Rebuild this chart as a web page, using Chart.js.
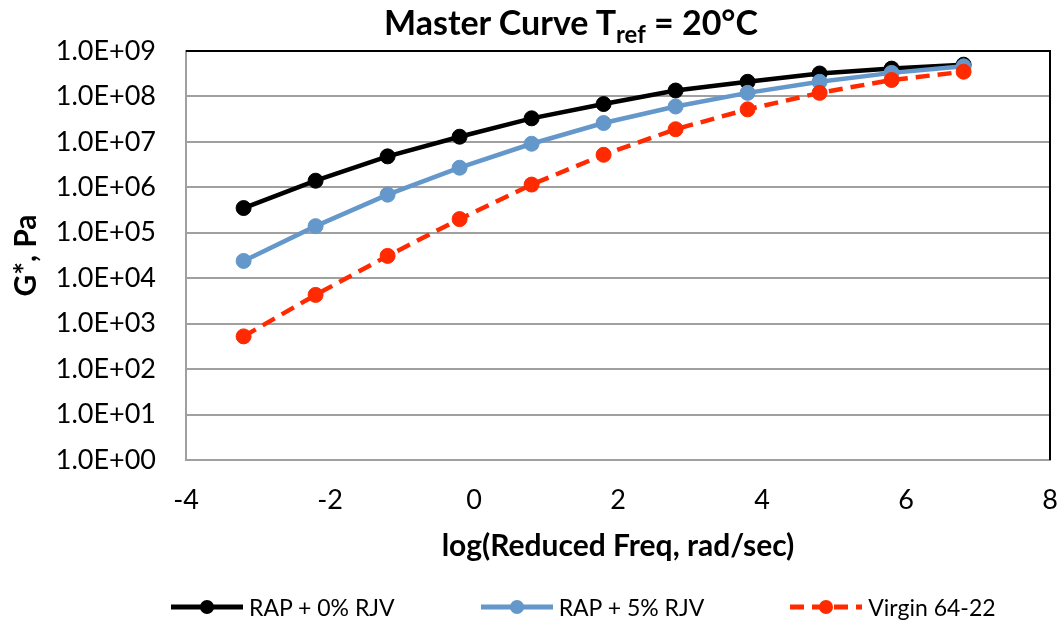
<!DOCTYPE html>
<html>
<head>
<meta charset="utf-8">
<script src="https://cdn.jsdelivr.net/npm/chart.js@4.4.0/dist/chart.umd.min.js"></script>
<style>
  body { margin: 0; background: #fff; }
  #wrap { position: relative; width: 1060px; height: 624px; font-family: Lato, sans-serif; color: #000; }
  #title { position: absolute; top: 1px; left: 571px; transform: translateX(-50%); font-weight: bold; font-size: 34px; white-space: nowrap; }
  #title sub { font-size: 0.7em; vertical-align: -0.35em; line-height: 0; }
  #legend { position: absolute; left: 171px; top: 593px; display: flex; align-items: center; font-size: 23px; white-space: nowrap; }
  .item { display: flex; align-items: center; margin-right: 86px; flex: none; }
  .item span { margin-left: 6px; }
</style>
</head>
<body>
<div id="wrap">
  <div id="title">Master Curve T<sub>ref</sub> = 20°C</div>
  <canvas id="chart" width="1060" height="624"></canvas>
  <div id="legend"></div>
</div>
<script>
// values
const logFreq = [-3.2, -2.2, -1.2, -0.2, 0.8, 1.8, 2.8, 3.8, 4.8, 5.8, 6.8];
const rap0 = [3.5e5, 1.4e6, 4.8e6, 1.3e7, 3.3e7, 6.8e7, 1.35e8, 2.1e8, 3.2e8, 4.1e8, 5.0e8];
const rap5 = [2.4e4, 1.4e5, 6.9e5, 2.7e6, 9.1e6, 2.6e7, 6.0e7, 1.2e8, 2.1e8, 3.3e8, 4.6e8];
const virgin = [525, 4.3e3, 3.1e4, 2.0e5, 1.15e6, 5.2e6, 1.9e7, 5.2e7, 1.2e8, 2.3e8, 3.5e8];
const seriesLabels = ['RAP + 0% RJV', 'RAP + 5% RJV', 'Virgin 64-22'];
const yTicks = [1, 10, 100, 1e3, 1e4, 1e5, 1e6, 1e7, 1e8, 1e9];

const GRID = '#a0a0a0';

function toPoints(values) {
  return logFreq.map((x, i) => ({ x: x, y: values[i] }));
}

function sci(v) {
  const e = Math.round(Math.log10(v));
  return '1.0E+' + String(e).padStart(2, '0');
}

// black line on top and right of the plot area
const frame = {
  id: 'frame',
  beforeDatasetsDraw(chart) {
    const { ctx, chartArea: a } = chart;
    ctx.save();
    ctx.strokeStyle = '#000';
    ctx.lineWidth = 2;
    ctx.beginPath();
    ctx.moveTo(a.left, a.top);
    ctx.lineTo(a.right, a.top);
    ctx.lineTo(a.right, a.bottom);
    ctx.stroke();
    ctx.restore();
  }
};

function makeSet(label, values, color, dash, order) {
  return {
    label: label,
    data: toPoints(values),
    borderColor: color,
    backgroundColor: color,
    pointBackgroundColor: color,
    pointBorderColor: color,
    borderWidth: 4.5,
    borderDash: dash,
    pointRadius: 7.5,
    pointBorderWidth: 1,
    tension: 0,
    order: order
  };
}

const ctx = document.getElementById('chart');
const chart = new Chart(ctx, {
  type: 'line',
  data: {
    datasets: [
      makeSet(seriesLabels[0], rap0, '#000000', [], 3),
      makeSet(seriesLabels[1], rap5, '#6497ca', [], 2),
      makeSet(seriesLabels[2], virgin, '#ff2a00', [14, 8], 1)
    ]
  },
  options: {
    responsive: false,
    animation: false,
    layout: { padding: { top: 51, right: 10, bottom: 60, left: 0 } },
    plugins: {
      legend: { display: false },
      title: { display: false },
      tooltip: { enabled: false }
    },
    scales: {
      x: {
        type: 'linear',
        min: -4,
        max: 8,
        ticks: { stepSize: 2, color: '#000', padding: 0, font: { family: 'Lato', size: 27 } },
        // invisible tick marks just push the labels down
        grid: { display: false, drawTicks: true, tickLength: 24, tickColor: 'rgba(0,0,0,0)' },
        border: { display: true, color: GRID, width: 2 },
        title: {
          display: true,
          text: 'log(Reduced Freq, rad/sec)',
          color: '#000',
          font: { family: 'Lato', size: 30, weight: 'bold' },
          padding: { top: 0, bottom: 0 }
        },
        afterFit(scale) { scale.height = 104; }
      },
      y: {
        type: 'logarithmic',
        min: 1,
        max: 1e9,
        afterBuildTicks(scale) { scale.ticks = yTicks.map((v) => ({ value: v })); },
        ticks: {
          color: '#000',
          padding: 30,
          font: { family: 'Lato', size: 27 },
          callback: (v) => sci(v)
        },
        grid: { color: GRID, lineWidth: 2, drawTicks: false },
        border: { display: true, color: GRID, width: 2 },
        title: {
          display: true,
          text: 'G*, Pa',
          color: '#000',
          font: { family: 'Lato', size: 30, weight: 'bold' },
          padding: { top: 8, bottom: 0 }
        },
        afterFit(scale) { scale.width = 186; }
      }
    }
  },
  plugins: [frame]
});

// legend built from the datasets
function buildLegend(c) {
  const box = document.getElementById('legend');
  c.data.datasets.forEach((ds) => {
    const item = document.createElement('div');
    item.className = 'item';
    const dash = (ds.borderDash || []).join(' ');
    item.innerHTML = '<svg width="72" height="20"><line x1="0" y1="10" x2="72" y2="10" stroke="' + ds.borderColor +
      '" stroke-width="5" stroke-dasharray="' + dash + '"/><circle cx="36" cy="10" r="7" fill="' + ds.pointBackgroundColor +
      '"/></svg><span>' + ds.label + '</span>';
    box.appendChild(item);
  });
}
buildLegend(chart);
</script>
</body>
</html>
